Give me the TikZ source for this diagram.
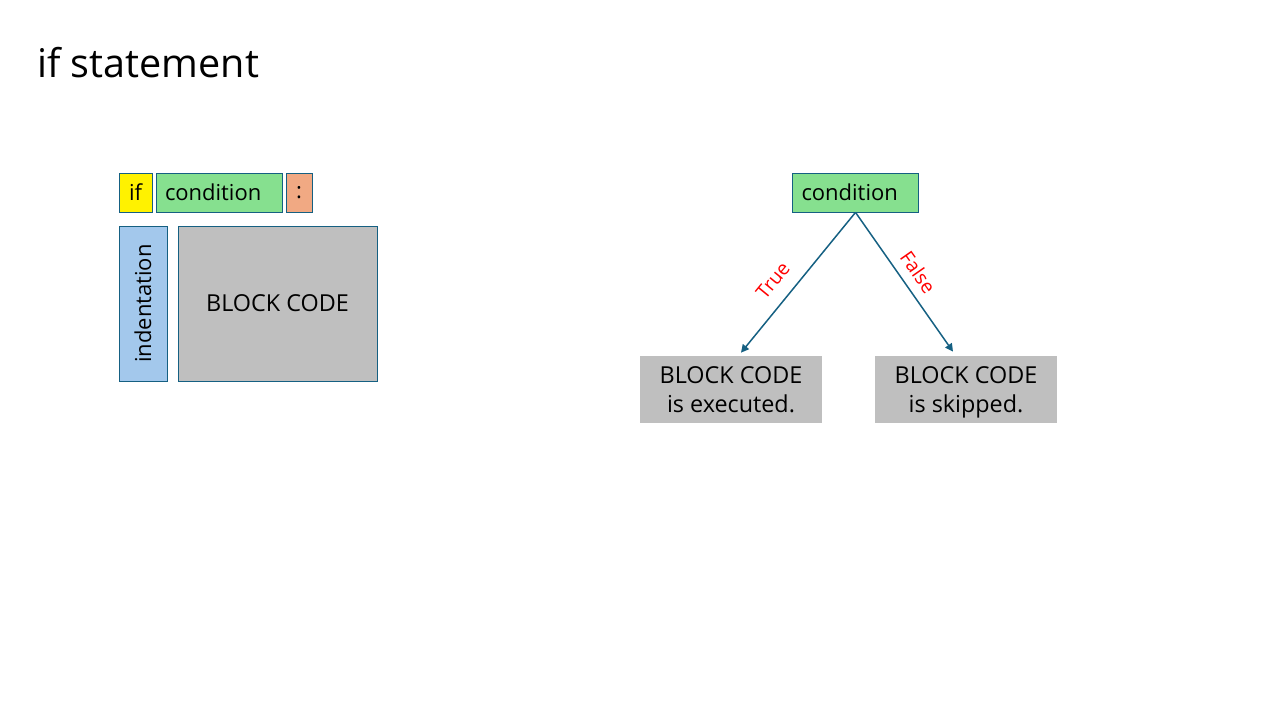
\documentclass[tikz,border=0pt]{standalone}
\usepackage{fontspec}
\setmainfont{Open Sans}
\usetikzlibrary{arrows.meta,calc}

\definecolor{edgeblue}{HTML}{156082}
\definecolor{condgreen}{HTML}{86E08F}
\definecolor{colonorange}{HTML}{F1A983}
\definecolor{indentblue}{HTML}{A3C8EC}
\definecolor{codegray}{HTML}{BFBFBF}

\begin{document}
\begin{tikzpicture}[
  x=0.02cm, y=-0.02cm,
  box/.style={draw=edgeblue, line width=0.45pt, inner sep=0pt, font=\fontsize{12.5}{15}\selectfont},
  condbox/.style={box, fill=condgreen, minimum height=0.78cm, inner xsep=0.18cm,
    text width=2.16cm, align=left},
  result/.style={fill=codegray, inner sep=0pt, minimum width=3.64cm, minimum height=1.34cm,
    align=center, font=\fontsize{13.3}{16.5}\selectfont, text depth=0pt},
  branch/.style={draw=edgeblue, line width=0.85pt, -{Triangle[length=4.5pt,width=4.5pt]}},
  choice/.style={text=red, font=\fontsize{11}{13}\selectfont, sloped, inner sep=0pt}
]
  \useasboundingbox (0,0) rectangle (1280,720);

  \node[anchor=base west, inner sep=0pt, font=\fontsize{22.5}{27}\selectfont] (title) at (37,77) {if statement};

  % syntax of the statement
  \node[box, fill=yellow, minimum width=0.66cm, minimum height=0.78cm] (kw) at (135.5,192.5) {if};
  \node[condbox] (cond) at (219,192.5) {condition};
  \node[box, fill=colonorange, minimum width=0.52cm, minimum height=0.78cm] (colon) at (299,192.5) {:};
  \node[box, fill=indentblue, rotate=90, minimum width=3.1cm, minimum height=0.96cm] (indent) at (143,303.5) {indentation};
  \node[box, fill=codegray, minimum width=3.98cm, minimum height=3.1cm, font=\fontsize{13.3}{16}\selectfont] (block) at (277.5,303.5) {BLOCK CODE};

  % flow of the statement
  \node[condbox] (test) at (855.5,192.5) {condition};
  \node[result] (exec) at (731,389.5) {BLOCK CODE\\is executed.};
  \node[result] (skip) at (966,389.5) {BLOCK CODE\\is skipped.};

  \draw[branch] (test.south) -- ($(exec.north)+(10,-3)$) node[choice, pos=0.58, above=7.5pt] {True};
  \draw[branch] (test.south) -- ($(skip.north)+(-13,-4)$) node[choice, pos=0.5, above=5pt] {False};
\end{tikzpicture}
\end{document}
